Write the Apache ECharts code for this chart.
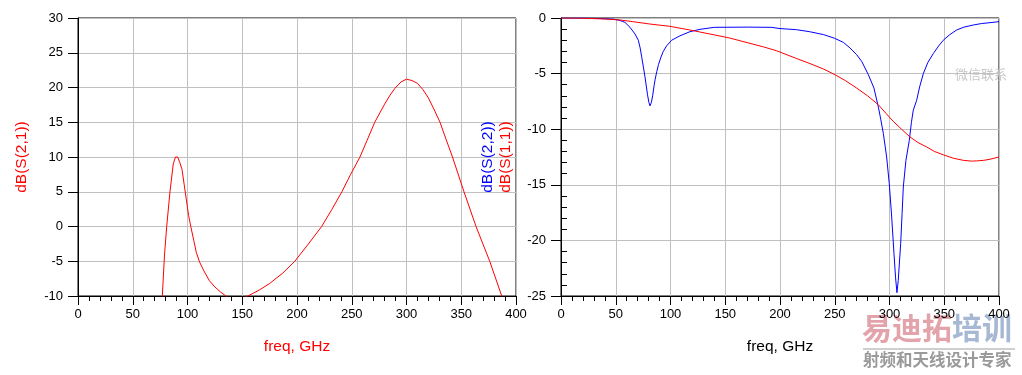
<!DOCTYPE html>
<html>
<head>
<meta charset="utf-8">
<script src="https://cdn.jsdelivr.net/npm/echarts@6/dist/echarts.min.js"></script>
<style>
html,body{margin:0;padding:0;background:#fff;}
#c{width:1022px;height:375px;}
</style>
</head>
<body>
<div id="c"></div>
<script>
// ---- Data ----
const xTicks = [0, 50, 100, 150, 200, 250, 300, 350, 400];

const s21Freq = [76, 77, 79, 81, 84, 87, 89, 90, 91, 93, 95, 97, 99, 101, 103, 106, 108, 111, 115, 120, 125, 130, 135, 140, 145, 150, 155, 160, 166, 175, 187, 198, 210, 222.5, 232, 241, 249, 257.5, 264, 271, 280, 285, 289.5, 295, 300, 305, 310, 315, 320, 325, 330.6, 336, 342, 352.5, 363.5, 376, 387, 390];
const s21Db   = [-15, -10, -4.1, 0, 5, 9, 10, 10.2, 10, 9.2, 8.2, 6, 3.8, 1.6, 0, -2.2, -3.7, -5.1, -6.4, -7.8, -8.7, -9.4, -10, -10.4, -10.5, -10.3, -10, -9.6, -9.1, -8.2, -6.7, -5.0, -2.6, 0, 2.5, 5, 7.5, 10, 12.4, 15, 17.6, 18.9, 19.9, 20.8, 21.2, 21.0, 20.6, 19.7, 18.5, 16.9, 15, 12.6, 10, 5, 0, -5, -10, -11.5];

const s22Freq = [0, 20, 36, 48, 52, 55, 58.4, 63, 67.6, 70.6, 72.3, 73.7, 75.2, 76.7, 78, 79, 80.3, 81.3, 82.5, 83.7, 85, 86, 87.5, 89, 91, 93.4, 96.5, 101, 108.7, 117.8, 127, 140, 170, 192, 200, 215, 227, 240, 250, 258, 264, 270, 274.6, 280.7, 285.8, 289.8, 292, 294.4, 297.4, 299.8, 302, 304.1, 305.5, 306.8, 308, 310.2, 311.5, 312.6, 315, 318.1, 320, 321.7, 324.8, 327.5, 330.9, 335, 340, 345, 349.1, 355, 361.3, 368, 376.5, 384, 391.8, 400];
const s22Db   = [0, 0, -0.05, -0.1, -0.18, -0.26, -0.39, -0.84, -1.44, -2.0, -2.7, -3.5, -4.4, -5.3, -6.2, -6.9, -7.6, -7.9, -7.6, -7.0, -6.1, -5.5, -4.8, -4.2, -3.6, -3.0, -2.5, -2.0, -1.6, -1.23, -1.02, -0.84, -0.82, -0.84, -0.95, -1.05, -1.23, -1.5, -1.83, -2.2, -2.7, -3.3, -3.9, -5.1, -6.3, -8.0, -9.1, -10.4, -12.5, -14.9, -17.9, -21.2, -23.3, -24.7, -23.6, -20.3, -17.6, -15.2, -12.8, -11.0, -9.4, -8.3, -7.4, -6.2, -5.0, -4.0, -3.2, -2.5, -2.0, -1.5, -1.08, -0.82, -0.63, -0.5, -0.42, -0.33];

const s11Freq = [0, 20, 40, 54, 65, 81, 99.5, 117.8, 136, 154, 172.6, 185, 197, 214, 227.4, 240, 250.2, 260, 270, 280, 289.8, 297, 303.5, 311, 318.7, 326, 334, 341, 349.1, 358, 367.4, 375, 379.6, 386, 391.8, 400];
const s11Db   = [0, -0.02, -0.09, -0.18, -0.32, -0.54, -0.75, -1.08, -1.44, -1.8, -2.28, -2.6, -2.95, -3.6, -4.1, -4.6, -5.1, -5.65, -6.3, -7.0, -7.8, -8.6, -9.3, -10.0, -10.7, -11.2, -11.6, -12.0, -12.3, -12.6, -12.8, -12.87, -12.85, -12.8, -12.7, -12.5];

const leftYTicks  = [-10, -5, 0, 5, 10, 15, 20, 25, 30];
const rightYTicks = [-25, -20, -15, -10, -5, 0];

// ---- Build chart ----
const zip = (xs, ys) => xs.map((x, i) => [x, ys[i]]);
const FONT = '"Liberation Sans", Arial, sans-serif';
const RED = '#ff0000', BLUE = '#0000ff';
const GRIDC = '#c0c0c0';

function xAxisCfg(gridIndex, nameColor) {
  return {
    type: 'value', gridIndex: gridIndex, position: 'bottom',
    min: xTicks[0], max: xTicks[xTicks.length - 1], interval: xTicks[1] - xTicks[0],
    name: 'freq, GHz', nameLocation: 'middle', nameGap: 43,
    nameTextStyle: { color: nameColor, fontSize: 15.5, fontFamily: FONT },
    axisLine: { show: true, onZero: false, lineStyle: { color: '#000', width: 1 } },
    axisTick: { show: true, length: 9, lineStyle: { color: '#000' } },
    minorTick: { show: true, splitNumber: 5, length: 5, lineStyle: { color: '#000' } },
    axisLabel: { color: '#000', fontSize: 13, fontFamily: FONT, margin: 12 },
    splitLine: { show: true, lineStyle: { color: GRIDC, width: 1 } }
  };
}

const option = {
  animation: false,
  backgroundColor: '#fff',
  grid: [
    { left: 78, top: 18, width: 438, height: 278, show: true, borderColor: '#000', borderWidth: 1 },
    { left: 561, top: 18, width: 438, height: 278, show: true, borderColor: '#000', borderWidth: 1 }
  ],
  xAxis: [ xAxisCfg(0, RED), xAxisCfg(1, '#000') ],
  yAxis: [
    {
      type: 'value', gridIndex: 0, position: 'left',
      min: leftYTicks[0], max: leftYTicks[leftYTicks.length - 1], interval: 5,
      name: 'dB(S(2,1))', nameLocation: 'middle', nameGap: 48, nameRotate: 90,
      nameTextStyle: { color: RED, fontSize: 15.5, fontFamily: FONT },
      axisLine: { show: true, onZero: false, lineStyle: { color: '#000', width: 1 } },
      axisTick: { show: true, length: 10, lineStyle: { color: '#000' } },
      axisLabel: { color: '#000', fontSize: 13, fontFamily: FONT, margin: 15 },
      splitLine: { show: true, lineStyle: { color: GRIDC, width: 1 } }
    },
    {
      type: 'value', gridIndex: 1, position: 'left',
      min: rightYTicks[0], max: rightYTicks[rightYTicks.length - 1], interval: 5,
      name: '{b|dB(S(2,2))}\n{r|dB(S(1,1))}', nameLocation: 'middle', nameGap: 47, nameRotate: 90,
      nameTextStyle: {
        fontSize: 15.5, fontFamily: FONT,
        rich: {
          b: { color: BLUE, fontSize: 15.5, fontFamily: FONT, lineHeight: 17.5 },
          r: { color: RED, fontSize: 15.5, fontFamily: FONT, lineHeight: 17.5 }
        }
      },
      axisLine: { show: true, onZero: false, lineStyle: { color: '#000', width: 1 } },
      axisTick: { show: true, length: 10, lineStyle: { color: '#000' } },
      axisLabel: { color: '#000', fontSize: 13, fontFamily: FONT, margin: 15 },
      splitLine: { show: true, lineStyle: { color: GRIDC, width: 1 } }
    },
    {
      // inner minor ticks for the right chart
      type: 'value', gridIndex: 1, position: 'left', offset: 0,
      min: rightYTicks[0], max: rightYTicks[rightYTicks.length - 1], interval: 5,
      axisLine: { show: false, onZero: false },
      axisTick: { show: false, inside: true },
      minorTick: { show: true, splitNumber: 5, length: 6, lineStyle: { color: '#000' } },
      axisLabel: { show: false },
      splitLine: { show: false }
    }
  ],
  series: [
    {
      type: 'line', xAxisIndex: 0, yAxisIndex: 0, data: zip(s21Freq, s21Db),
      symbol: 'none', lineStyle: { color: RED, width: 1 }, itemStyle: { color: RED }, clip: true
    },
    {
      type: 'line', xAxisIndex: 1, yAxisIndex: 1, data: zip(s22Freq, s22Db),
      symbol: 'none', lineStyle: { color: BLUE, width: 1 }, itemStyle: { color: BLUE }, clip: true
    },
    {
      type: 'line', xAxisIndex: 1, yAxisIndex: 1, data: zip(s11Freq, s11Db),
      symbol: 'none', lineStyle: { color: RED, width: 1 }, itemStyle: { color: RED }, clip: true
    }
  ],
  graphic: [
    { type: 'text', left: 955, top: 68, style: { text: '微信联系', fill: '#c8c8c8', font: '13px "Noto Sans CJK SC"', letterSpacing: 3 } },
    { type: 'text', left: 862, top: 313, style: { text: '易迪拓', fill: '#e3a3ab', font: 'bold 30px "Noto Sans CJK SC"' } },
    { type: 'text', left: 952, top: 313, style: { text: '培训', fill: '#a6b8d4', font: 'bold 30px "Noto Sans CJK SC"' } },
    { type: 'rect', shape: { x: 863, y: 348, width: 152, height: 2 }, style: { fill: '#cfcfcf' } },
    { type: 'text', left: 863, top: 351, style: { text: '射频和天线设计专家', fill: '#9a9a9a', font: 'bold 16.5px "Noto Sans CJK SC"' } }
  ]
};

const chart = echarts.init(document.getElementById('c'), null, { renderer: 'canvas' });
chart.setOption(option);
</script>
</body>
</html>
